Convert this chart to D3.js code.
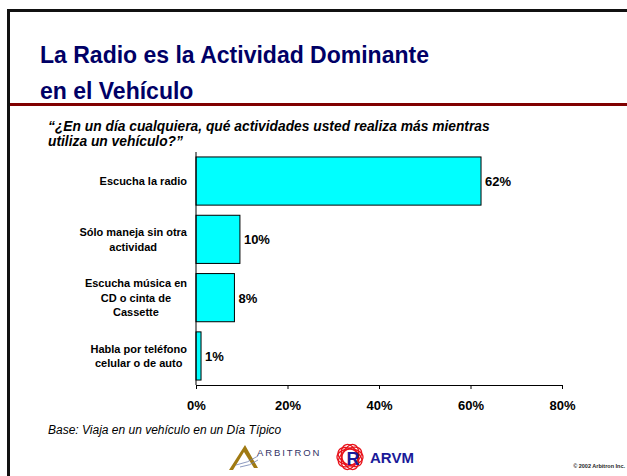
<!DOCTYPE html>
<html lang="es">
<head>
<meta charset="UTF-8">
<script src="https://d3js.org/d3.v7.min.js"></script>
<style>
  body { margin: 0; background: #fff; }
  svg { display: block; }
  svg text { font-family: Arial, "Liberation Sans", sans-serif; }
</style>
</head>
<body>
<div id="content"></div>
<script>
var width = 627, height = 476;

// data
var categories = [
  ["Escucha la radio"],
  ["Sólo maneja sin otra", "actividad"],
  ["Escucha música en", "CD o cinta de", "Cassette"],
  ["Habla por teléfono", "celular o de auto"]
];
var values = [0.623, 0.096, 0.084, 0.011];
var ticks = [0, 0.2, 0.4, 0.6, 0.8];

var svg = d3.select('#content').append('svg')
  .attr('width', width).attr('height', height);

// slide frame (top and left edges, the rest runs off the page)
svg.append('rect').attr('x', 8.5).attr('y', 10.5)
  .attr('width', width + 20).attr('height', height + 20)
  .attr('fill', 'none').attr('stroke', '#111').attr('stroke-width', 3);
svg.append('rect').attr('x', 10).attr('y', 103).attr('width', width - 10).attr('height', 3)
  .attr('fill', '#800000');

// title
var title = svg.append('text')
  .style('font-size', '23px').style('font-weight', 'bold').style('fill', '#000066');
title.append('tspan').attr('x', 40).attr('y', 63).text('La Radio es la Actividad Dominante');
title.append('tspan').attr('x', 40).attr('y', 99).text('en el Vehículo');

// question
var q = svg.append('text').style('font-size', '13.8px').style('font-weight', 'bold')
  .style('font-style', 'italic').style('fill', '#000');
q.append('tspan').attr('x', 48).attr('y', 131)
  .text('“¿En un día cualquiera, qué actividades usted realiza más mientras');
q.append('tspan').attr('x', 48).attr('y', 146).text('utiliza un vehículo?”');

// scales
var x = d3.scaleLinear().domain([0, 0.8]).range([196, 562]);
var y = d3.scaleBand().domain(d3.range(categories.length)).range([152, 385])
  .paddingInner(0.174).paddingOuter(0.085);

// bars
svg.selectAll('rect.bar').data(values).join('rect')
  .attr('class', 'bar')
  .attr('x', x(0))
  .attr('y', function(d, i) { return y(i); })
  .attr('width', function(d) { return x(d) - x(0); })
  .attr('height', y.bandwidth())
  .style('fill', '#00FFFF')
  .style('stroke', '#000')
  .style('stroke-width', 1);

// value labels
svg.selectAll('text.val').data(values).join('text')
  .attr('class', 'val')
  .attr('x', function(d) { return x(d) + 4; })
  .attr('y', function(d, i) { return y(i) + y.bandwidth() / 2 + 5; })
  .style('font-size', '13px').style('font-weight', 'bold')
  .text(function(d) { return d3.format('.0%')(d); });

// category labels: centered lines, block right-aligned to the axis
categories.forEach(function(lines, i) {
  var g = svg.append('text').style('font-size', '11px').style('font-weight', 'bold')
    .attr('text-anchor', 'middle');
  var lh = 14.7;
  var y0 = y(i) + y.bandwidth() / 2 - (lines.length - 1) * lh / 2 + 4;
  var spans = lines.map(function(l, k) {
    return g.append('tspan').attr('y', y0 + k * lh).text(l);
  });
  var maxW = d3.max(spans, function(s) { return s.node().getComputedTextLength(); });
  spans.forEach(function(s) { s.attr('x', 187 - maxW / 2); });
});

// axes
var xAxis = svg.append('g').attr('transform', 'translate(0,385)')
  .call(d3.axisBottom(x).tickValues(ticks).tickFormat(d3.format('.0%')).tickSize(4).tickPadding(12));
xAxis.select('.domain').style('stroke', '#000');
xAxis.selectAll('text').style('font-size', '13px').style('font-weight', 'bold')
  .style('font-family', 'Arial, "Liberation Sans", sans-serif').style('fill', '#000');

svg.append('line').attr('x1', x(0)).attr('x2', x(0)).attr('y1', 152).attr('y2', 385)
  .style('stroke', '#000').style('stroke-width', 1);

// base note
svg.append('text').attr('x', 48).attr('y', 434)
  .style('font-size', '12px').style('font-style', 'italic')
  .text('Base: Viaja en un vehículo en un Día Típico');

// Arbitron logo
var lg = svg.append('g');
lg.append('path').attr('d', 'M229,470 L245,445 L258,468 L254,468 L244,452 L233,470 Z')
  .attr('fill', '#a07a12');
lg.append('path').attr('d', 'M236,465 Q248,463 258,456 M240,467 Q250,466 258,460')
  .attr('fill', 'none').attr('stroke', '#7080b0').attr('stroke-width', 0.8);
lg.append('text').attr('x', 257).attr('y', 456)
  .style('font-size', '9.5px').style('letter-spacing', '1.9px').style('fill', '#333366')
  .text('ARBITRON');

// ARVM logo
var ag = svg.append('g');
[0, 35, 70, 110, 150].forEach(function(a) {
  ag.append('ellipse').attr('cx', 350).attr('cy', 457).attr('rx', 13).attr('ry', 8)
    .attr('transform', 'rotate(' + (-a) + ',350,457)')
    .attr('fill', 'none').attr('stroke', '#e8141c').attr('stroke-width', 1.3);
});
ag.append('text').attr('x', 353).attr('y', 465).attr('text-anchor', 'middle')
  .style('font-size', '18px').style('font-weight', '900').style('fill', '#1a1a99')
  .text('R');
ag.append('text').attr('x', 370).attr('y', 463)
  .style('font-size', '15px').style('font-weight', '900').style('fill', '#1a1a99')
  .text('ARVM');

// copyright
svg.append('text').attr('x', 625).attr('y', 468).attr('text-anchor', 'end')
  .style('font-size', '5.5px').style('font-weight', 'bold').style('fill', '#222')
  .text('© 2002 Arbitron Inc.');
</script>
</body>
</html>
